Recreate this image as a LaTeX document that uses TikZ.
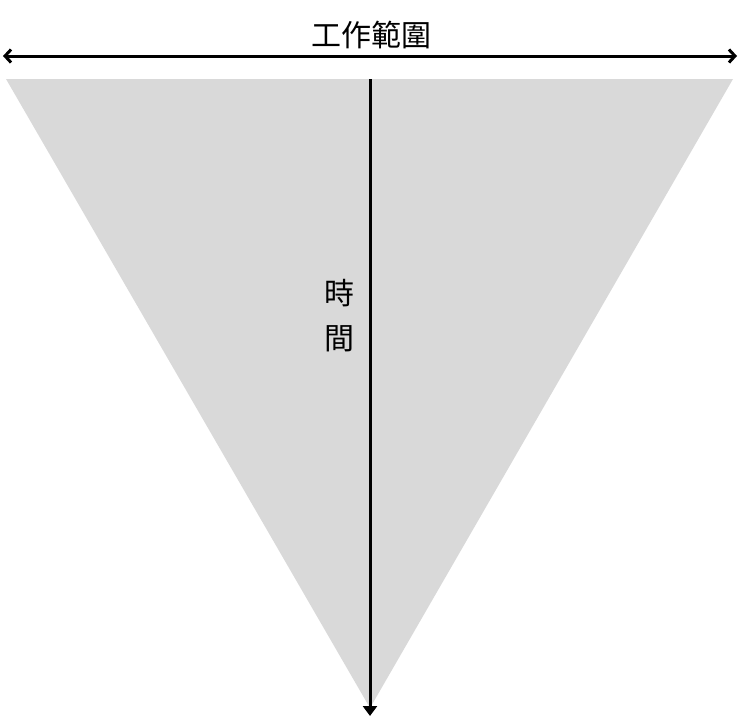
\documentclass[tikz,border=0pt]{standalone}
\usepackage{fontspec}
\newfontfamily\cjk{Noto Sans CJK TC}
\usetikzlibrary{arrows.meta}
\definecolor{trigray}{HTML}{D9D9D9}
\tikzset{
  lbl/.style={font=\cjk\fontsize{30}{30}\selectfont, inner sep=0pt},
  axis/.style={line width=3pt, black},
}
\begin{document}
\begin{tikzpicture}[x=1pt,y=-1pt]
\useasboundingbox (0,0) rectangle (740,723);
\coordinate (tl) at (6,79);
\coordinate (tr) at (733,79);
\coordinate (ap) at (370,708);
\fill[trigray] (tl) -- (tr) -- (ap) -- cycle;
\coordinate (hl) at (3,56);
\coordinate (hr) at (737,56);
\draw[axis, {Straight Barb[length=6pt,width=13pt,line width=3pt]}-{Straight Barb[length=6pt,width=13pt,line width=3pt]}] (hl) -- (hr);
\node[lbl] (scope) at (371,35) {工作範圍};
\coordinate (vt) at (370,79);
\coordinate (vb) at (370,716);
\draw[axis, -{Triangle[length=10pt,width=14pt]}] (vt) -- (vb);
\node[lbl] (t1) at (339,293) {時};
\node[lbl] (t2) at (339,339) {間};
\end{tikzpicture}
\end{document}
